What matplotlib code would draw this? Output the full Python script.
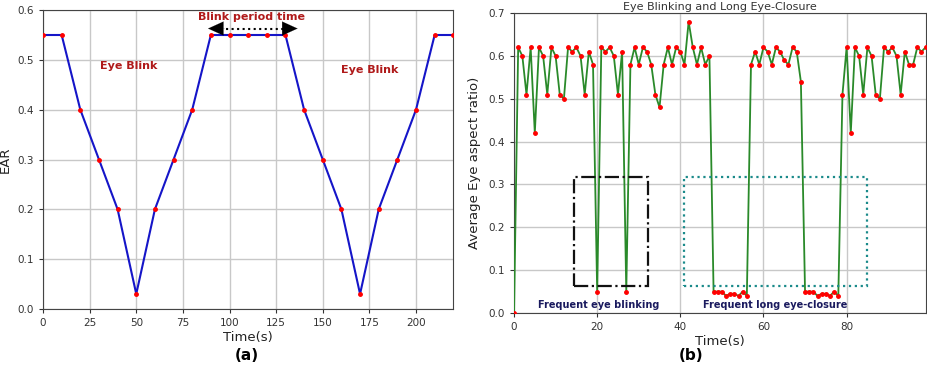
import matplotlib
matplotlib.use("Agg")
import matplotlib.pyplot as plt
from matplotlib.patches import Rectangle

# (a) simulated EAR during two blinks
time_a = [0, 10, 20, 30, 40, 50, 60, 70, 80, 90, 100, 110, 120, 130,
          140, 150, 160, 170, 180, 190, 200, 210, 220]
ear_a = [0.55, 0.55, 0.40, 0.30, 0.20, 0.03, 0.20, 0.30, 0.40, 0.55, 0.55,
         0.55, 0.55, 0.55, 0.40, 0.30, 0.20, 0.03, 0.20, 0.30, 0.40, 0.55, 0.55]

# (b) measured average EAR, one sample per second
time_b = list(range(0, 100))
ear_b = [0.00, 0.62, 0.60, 0.51, 0.62, 0.42, 0.62, 0.60, 0.51, 0.62,
         0.60, 0.51, 0.50, 0.62, 0.61, 0.62, 0.60, 0.51, 0.61, 0.58,
         0.05, 0.62, 0.61, 0.62, 0.60, 0.51, 0.61, 0.05, 0.58, 0.62,
         0.58, 0.62, 0.61, 0.58, 0.51, 0.48, 0.58, 0.62, 0.58, 0.62,
         0.61, 0.58, 0.68, 0.62, 0.58, 0.62, 0.58, 0.60, 0.05, 0.05,
         0.05, 0.04, 0.045, 0.045, 0.04, 0.05, 0.04, 0.58, 0.61, 0.58,
         0.62, 0.61, 0.58, 0.62, 0.61, 0.59, 0.58, 0.62, 0.61, 0.54,
         0.05, 0.05, 0.05, 0.04, 0.045, 0.045, 0.04, 0.05, 0.04, 0.51,
         0.62, 0.42, 0.62, 0.60, 0.51, 0.62, 0.60, 0.51, 0.50, 0.62,
         0.61, 0.62, 0.60, 0.51, 0.61, 0.58, 0.58, 0.62, 0.61, 0.62]

tick_col = "#333333"
dark_red = "#b01a1a"
navy = "#1a1a5e"

fig = plt.figure(figsize=(9.27, 3.74), dpi=100)

# ---- left panel ----
ax1 = fig.add_axes([0.0464, 0.174, 0.4426, 0.799])
ax1.plot(time_a, ear_a, color="#1515c8", lw=1.5, zorder=3)
ax1.plot(time_a, ear_a, "o", color="red", ms=2.5, zorder=4)
ax1.set_xlim(0, 220)
ax1.set_ylim(0, 0.6)
ax1.set_xticks([0, 25, 50, 75, 100, 125, 150, 175, 200])
ax1.set_yticks([0.0, 0.1, 0.2, 0.3, 0.4, 0.5, 0.6])
ax1.grid(True, color="#c8c8c8", lw=1)
ax1.set_axisbelow(True)
ax1.tick_params(labelsize=7.5, colors=tick_col, length=3)
ax1.set_xlabel("Time(s)", fontsize=9.5, color="#222222", labelpad=2)
ax1.set_ylabel("EAR", fontsize=9.5, color="#222222")
ax1.yaxis.set_label_coords(-0.075, 0.5)
for s in ax1.spines.values():
    s.set_color("#444444")

ax1.text(46, 0.488, "Eye Blink", color=dark_red, fontsize=8, fontweight="bold",
         ha="center", va="center")
ax1.text(175, 0.48, "Eye Blink", color=dark_red, fontsize=8, fontweight="bold",
         ha="center", va="center")
ax1.text(112, 0.586, "Blink period time", color=dark_red, fontsize=8,
         fontweight="bold", ha="center", va="center")
ax1.plot([92, 133], [0.563, 0.563], color="black", ls=":", lw=1.5, zorder=5)
ax1.annotate("", xy=(87, 0.563), xytext=(99, 0.563),
             arrowprops=dict(arrowstyle="-|>,head_length=1.1,head_width=0.5",
                             color="black", lw=0.1), zorder=6)
ax1.annotate("", xy=(138, 0.563), xytext=(126, 0.563),
             arrowprops=dict(arrowstyle="-|>,head_length=1.1,head_width=0.5",
                             color="black", lw=0.1), zorder=6)

# ---- right panel ----
ax2 = fig.add_axes([0.5545, 0.163, 0.444, 0.802])
ax2.plot(time_b, ear_b, color="#2a8a2a", lw=1.3, zorder=3)
ax2.plot(time_b, ear_b, "o", color="red", ms=2.5, zorder=4)
ax2.set_xlim(0, 99)
ax2.set_ylim(0, 0.7)
ax2.set_xticks([0, 20, 40, 60, 80])
ax2.set_yticks([0.0, 0.1, 0.2, 0.3, 0.4, 0.5, 0.6, 0.7])
ax2.grid(True, color="#c8c8c8", lw=1)
ax2.set_axisbelow(True)
ax2.tick_params(labelsize=7.5, colors=tick_col, length=3)
ax2.set_xlabel("Time(s)", fontsize=9.5, color="#222222", labelpad=2)
ax2.set_ylabel("Average Eye aspect ratio)", fontsize=9.5, color="#222222")
ax2.yaxis.set_label_coords(-0.08, 0.5)
ax2.set_title("Eye Blinking and Long Eye-Closure", fontsize=8, color="#333333",
              pad=2)
for s in ax2.spines.values():
    s.set_color("#444444")

ax2.add_patch(Rectangle((14.5, 0.062), 17.8, 0.256, fill=False,
                        edgecolor="#111111", lw=1.6, ls="-.", zorder=5))
ax2.add_patch(Rectangle((40.9, 0.062), 44.0, 0.256, fill=False,
                        edgecolor="#1a8a8a", lw=1.6, ls=":", zorder=5))
ax2.text(20.3, 0.018, "Frequent eye blinking", color=navy, fontsize=7,
         fontweight="bold", ha="center", va="center", zorder=6)
ax2.text(62.9, 0.018, "Frequent long eye-closure", color=navy, fontsize=7,
         fontweight="bold", ha="center", va="center", zorder=6)

fig.text(0.2664, 0.05, "(a)", fontsize=11, fontweight="bold", ha="center",
         va="center")
fig.text(0.7455, 0.05, "(b)", fontsize=11, fontweight="bold", ha="center",
         va="center")

fig.savefig("out.png", dpi=100)
